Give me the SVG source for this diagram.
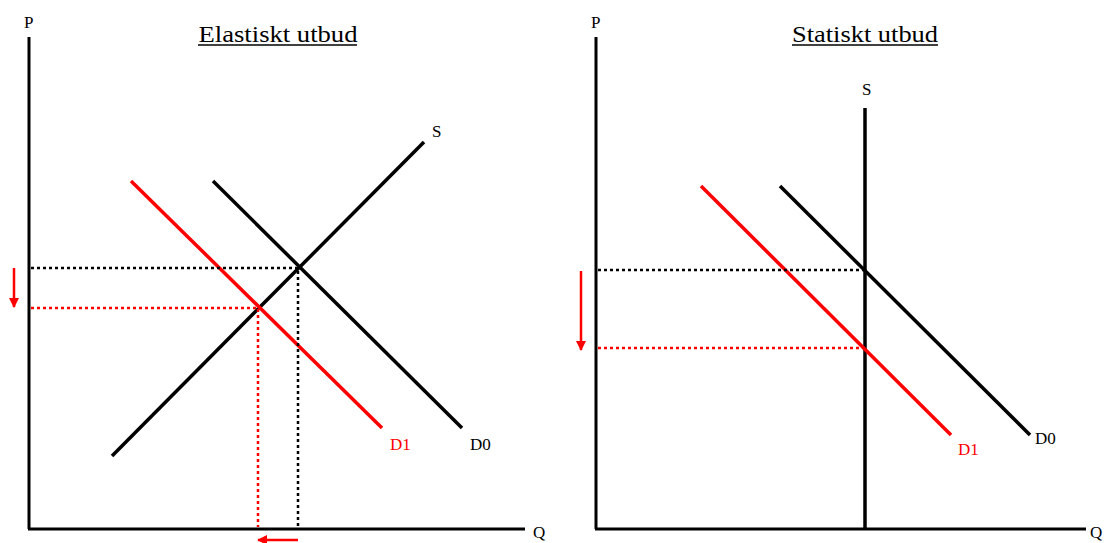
<svg xmlns="http://www.w3.org/2000/svg" width="1104" height="543" viewBox="0 0 1104 543">
<style>
text{font-family:"Liberation Serif","Times New Roman",serif;fill:#000}
.t{font-size:24px}
.l{font-size:17px}
.red{fill:#ff0000}
.ax{stroke:#000;stroke-width:3;fill:none}
.ln{stroke:#000;stroke-width:3.5;fill:none}
.lr{stroke:#ff0000;stroke-width:3.5;fill:none}
.db{stroke:#000;stroke-width:2.5;stroke-dasharray:3 3;fill:none}
.dr{stroke:#ff0000;stroke-width:2.5;stroke-dasharray:3 3;fill:none}
.ar{stroke:#ff0000;stroke-width:2.5;fill:none}
</style>
<defs>
<marker id="ah" viewBox="0 0 10 10" refX="9" refY="5" markerWidth="4" markerHeight="4" orient="auto" markerUnits="strokeWidth">
<path d="M0,0 L10,5 L0,10 Z" fill="#ff0000"/>
</marker>
</defs>
<rect width="1104" height="543" fill="#fff"/>
<g id="left-chart">
<g id="left-axes">
<line class="ax" x1="29" y1="37" x2="29" y2="529"/>
<line class="ax" x1="28" y1="529" x2="525" y2="529"/>
<text class="l" x="24" y="28">P</text>
<text class="l" x="533" y="538">Q</text>
</g>
<g id="left-title">
<text class="t" x="278" y="42" text-anchor="middle" textLength="159" lengthAdjust="spacingAndGlyphs">Elastiskt utbud</text>
<line x1="198" y1="45" x2="357" y2="45" stroke="#000" stroke-width="1.5"/>
</g>
<g id="left-S"><line class="ln" x1="112" y1="456" x2="424" y2="142"/><text class="l" x="432" y="137">S</text></g>
<g id="left-D0"><line class="ln" x1="213" y1="181" x2="462" y2="428"/><text class="l" x="470" y="450">D0</text></g>
<g id="left-D1"><line class="lr" x1="131" y1="181" x2="382" y2="428"/><text class="l red" x="390" y="450">D1</text></g>
</g>
<g id="right-chart">
<g id="right-axes">
<line class="ax" x1="596" y1="37" x2="596" y2="529"/>
<line class="ax" x1="595" y1="529" x2="1086" y2="529"/>
<text class="l" x="1090" y="538">Q</text>
<text class="l" x="591" y="28">P</text>
</g>
<g id="right-title">
<text class="t" x="865" y="42" text-anchor="middle" textLength="146" lengthAdjust="spacingAndGlyphs">Statiskt utbud</text>
<line x1="792" y1="45" x2="938" y2="45" stroke="#000" stroke-width="1.5"/>
</g>
<g id="right-S"><line class="ln" x1="865" y1="108" x2="865" y2="529"/><text class="l" x="862" y="95">S</text></g>
<g id="right-D0"><line class="ln" x1="780" y1="186" x2="1030" y2="435"/><text class="l" x="1035" y="444">D0</text></g>
<g id="right-D1"><line class="lr" x1="701" y1="186" x2="951" y2="435"/><text class="l red" x="958" y="455">D1</text></g>
</g>
<g id="connectors">
<polyline class="db" points="31,268 298,268 298,527"/>
<polyline class="dr" points="31,308 258,308 258,527"/>
<line class="ar" x1="14" y1="268" x2="14" y2="307" marker-end="url(#ah)"/>
<line class="ar" x1="298" y1="540" x2="258" y2="540" marker-end="url(#ah)"/>
<line class="db" x1="598" y1="270" x2="865" y2="270"/>
<line class="dr" x1="598" y1="348" x2="865" y2="348"/>
<line class="ar" x1="581" y1="271" x2="581" y2="350" marker-end="url(#ah)"/>
</g>
</svg>
